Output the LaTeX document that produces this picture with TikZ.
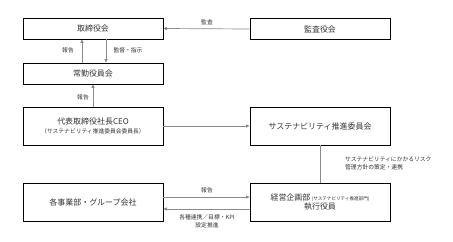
\documentclass[tikz,border=0pt]{standalone}
\usepackage{fontspec}
\setmainfont{Noto Sans CJK JP}
\usetikzlibrary{arrows.meta}
\tikzset{
  box/.style={draw=black,line width=.9bp,minimum width=140bp,inner sep=0pt,font=\fontsize{8}{10}\selectfont,text=black!80,align=center},
  lbl/.style={inner sep=0pt,font=\fontsize{5.8}{8.5}\selectfont,text=black!80,align=left},
  link/.style={draw=black!45,line width=.7bp},
  arr/.style={link,-{Triangle[length=3.5bp,width=3bp,fill=black]}}
}
\begin{document}
\begin{tikzpicture}[x=1bp,y=-1bp]
\useasboundingbox(0,0)rectangle(453,241);
\node[box,minimum height=21bp](board)at(93,28.5){取締役会};\node[box,minimum height=21bp](audit)at(320,29){監査役会};
\node[box,minimum height=21bp](exec)at(93,73.5){常勤役員会};
\node[box,minimum height=38bp](ceo)at(93,126){代表取締役社長CEO\\[-1bp]{\fontsize{5.8}{7}\selectfont（サステナビリティ推進委員会委員長）}};
\node[box,minimum height=38bp](sust)at(320,126){サステナビリティ推進委員会};
\node[box,minimum height=38bp](biz)at(93,202){各事業部・グループ会社};
\node[box,minimum height=38bp](plan)at(320,202){経営企画部\,{\fontsize{4.6}{6}\selectfont (サステナビリティ推進部門)}\\[-1bp]執行役員};
\draw[arr](audit.west)--(board.east);\node[lbl](l1)at(207,22){監査};
\draw[arr]([xshift=-11bp]exec.north)--([xshift=-11bp]board.south);\node[lbl](l2)at(68,50){報告};
\draw[arr]([xshift=13bp]board.south)--([xshift=13bp]exec.north);\node[lbl](l3)at(128,50){監督・指示};
\draw[arr](ceo.north)--(exec.south);\node[lbl](l4)at(83,97){報告};
\draw[arr](ceo.east)--(sust.west);
\draw[link](sust.south)--(plan.north);
\node[lbl,anchor=west](l5)at(345,163.5){サステナビリティにかかるリスク\\管理方針の策定・連携};
\draw[arr]([yshift=5bp]biz.east)--([yshift=5bp]plan.west);\node[lbl](l6)at(207,190){報告};
\draw[arr]([yshift=-7bp]plan.west)--([yshift=-7bp]biz.east);
\node[lbl,align=center](l7)at(207,221.5){各種連携／目標・KPI\\設定推進};
\end{tikzpicture}
\end{document}
